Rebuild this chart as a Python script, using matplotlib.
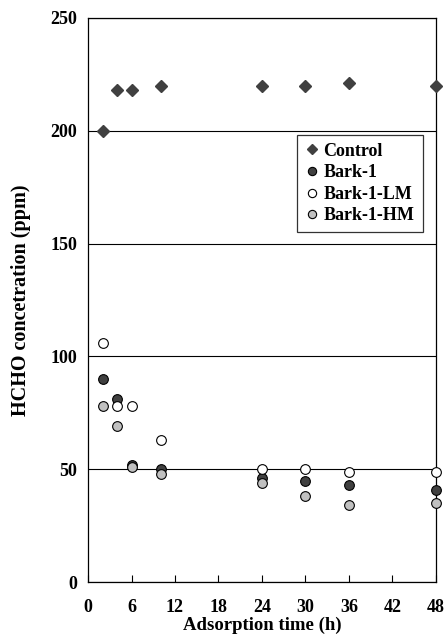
import matplotlib
matplotlib.use("Agg")
import matplotlib.pyplot as plt

# data
times = [2, 4, 6, 10, 24, 30, 36, 48]
control = [200, 218, 218, 220, 220, 220, 221, 220]
bark1 = [90, 81, 52, 50, 46, 45, 43, 41]
bark1_lm = [106, 78, 78, 63, 50, 50, 49, 49]
bark1_hm = [78, 69, 51, 48, 44, 38, 34, 35]

x_ticks = [0, 6, 12, 18, 24, 30, 36, 42, 48]
y_ticks = [0, 50, 100, 150, 200, 250]

plt.rcParams["font.family"] = ["Liberation Serif", "DejaVu Serif"]
plt.rcParams["font.weight"] = "bold"

fig = plt.figure(figsize=(4.47, 6.39), dpi=100)
ax = fig.add_axes([0.197, 0.089, 0.778, 0.883])

ax.plot(times, control, linestyle="none", marker="D", markersize=6.5,
        color="#404040", markeredgecolor="#404040", label="Control", zorder=3, clip_on=False)
ax.plot(times, bark1, linestyle="none", marker="o", markersize=7,
        markerfacecolor="#404040", markeredgecolor="black", markeredgewidth=0.8,
        label="Bark-1", zorder=3, clip_on=False)
ax.plot(times, bark1_lm, linestyle="none", marker="o", markersize=7,
        markerfacecolor="white", markeredgecolor="black", markeredgewidth=0.8,
        label="Bark-1-LM", zorder=3, clip_on=False)
ax.plot(times, bark1_hm, linestyle="none", marker="o", markersize=7,
        markerfacecolor="#c0c0c0", markeredgecolor="black", markeredgewidth=0.8,
        label="Bark-1-HM", zorder=3, clip_on=False)

ax.set_xlim(0, 48)
ax.set_ylim(0, 250)
ax.set_xticks(x_ticks)
ax.set_yticks(y_ticks)
ax.tick_params(axis="x", direction="in", length=5, width=0.8, pad=12, labelsize=13)
ax.tick_params(axis="y", length=0, pad=8, labelsize=13)
for lbl in ax.get_xticklabels() + ax.get_yticklabels():
    lbl.set_fontweight("bold")

ax.grid(axis="y", color="black", linewidth=0.8)
ax.set_axisbelow(True)
for sp in ax.spines.values():
    sp.set_linewidth(0.9)

ax.set_xlabel("Adsorption time (h)", fontsize=13.5, fontweight="bold", labelpad=1)
ax.set_ylabel("HCHO concetration (ppm)", fontsize=14.5, fontweight="bold", labelpad=14)

leg = ax.legend(loc="upper right", bbox_to_anchor=(0.962, 0.793), fontsize=13,
                frameon=True, fancybox=False, edgecolor="black", handlelength=0.7,
                handletextpad=0.3, borderpad=0.45, labelspacing=0.25, markerscale=0.85,
                borderaxespad=0)
leg.get_frame().set_linewidth(0.9)
for t in leg.get_texts():
    t.set_fontweight("bold")

fig.savefig("out.png", dpi=100)
